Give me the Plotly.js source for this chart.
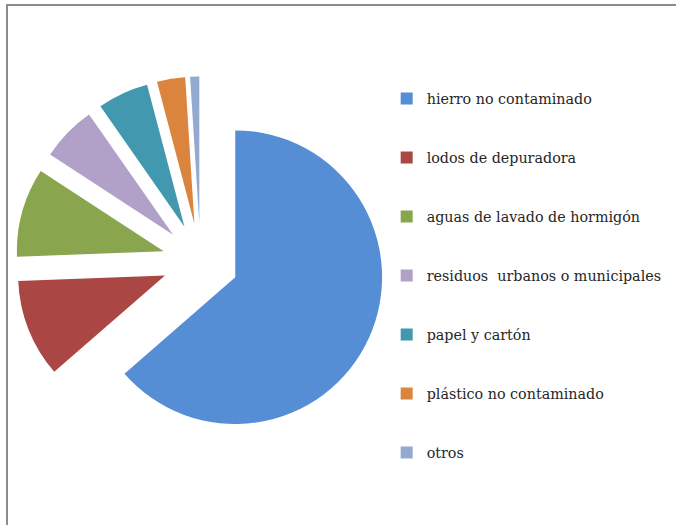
<!DOCTYPE html>
<html>
<head>
<meta charset="utf-8">
<script src="https://cdn.plot.ly/plotly-3.0.1.min.js"></script>
<style>
  html, body { margin: 0; padding: 0; background: #fff; }
  #wrap { position: relative; width: 676px; height: 525px; }
  #chart { position: absolute; left: 0; top: 0; width: 676px; height: 525px; }
  #frame { position: absolute; left: 6px; top: 4px; width: 676px; height: 530px;
           border-top: 2px solid #8c8c8c; border-left: 2px solid #8c8c8c;
           pointer-events: none; }
</style>
</head>
<body>
<div id="wrap">
  <div id="chart"></div>
  <div id="frame"></div>
</div>
<script>
// Categories (legend labels)
const categories = [
  "hierro no contaminado",
  "lodos de depuradora",
  "aguas de lavado de hormigón",
  "residuos  urbanos o municipales",
  "papel y cartón",
  "plástico no contaminado",
  "otros"
];
// Share of each category (%)
const shares = [63.6, 10.8, 9.8, 6.1, 5.6, 3.1, 1.0];
// Slice colours
const colors = ["#558ED5", "#AA4643", "#89A54E", "#B1A0C7", "#4198AF", "#DB843D", "#93A9CF"];

const SERIF = "DejaVu Serif";
const NB = "\u00a0";
const legendLabels = categories.map(c =>
  NB + '<br><span style="font-size:14.3px">' +
  c.replace(/  /g, NB + ' ') + '</span><br>' + NB
);

const trace = {
  type: 'pie',
  labels: legendLabels,
  values: shares,
  customdata: categories,
  marker: { colors: colors, line: { width: 0 } },
  pull: categories.map(() => 0.26),
  sort: false,
  direction: 'clockwise',
  rotation: 0,
  textinfo: 'none',
  hovertemplate: '%{customdata}: %{value}%<extra></extra>',
  domain: { x: [0.0229, 0.5703], y: [0.1497, 0.8545] }
};

const layout = {
  width: 676,
  height: 525,
  margin: { l: 0, r: 0, t: 0, b: 0 },
  paper_bgcolor: '#ffffff',
  font: { family: SERIF, color: '#262626' },
  showlegend: true,
  legend: {
    x: 0.572, xanchor: 'left',
    y: 0.878, yanchor: 'top',
    font: { family: SERIF, size: 14.36, color: '#262626' },
    bgcolor: 'rgba(0,0,0,0)',
    borderwidth: 0,
    tracegroupgap: 0
  }
};

Plotly.newPlot('chart', [trace], layout, { displayModeBar: false });
</script>
</body>
</html>
